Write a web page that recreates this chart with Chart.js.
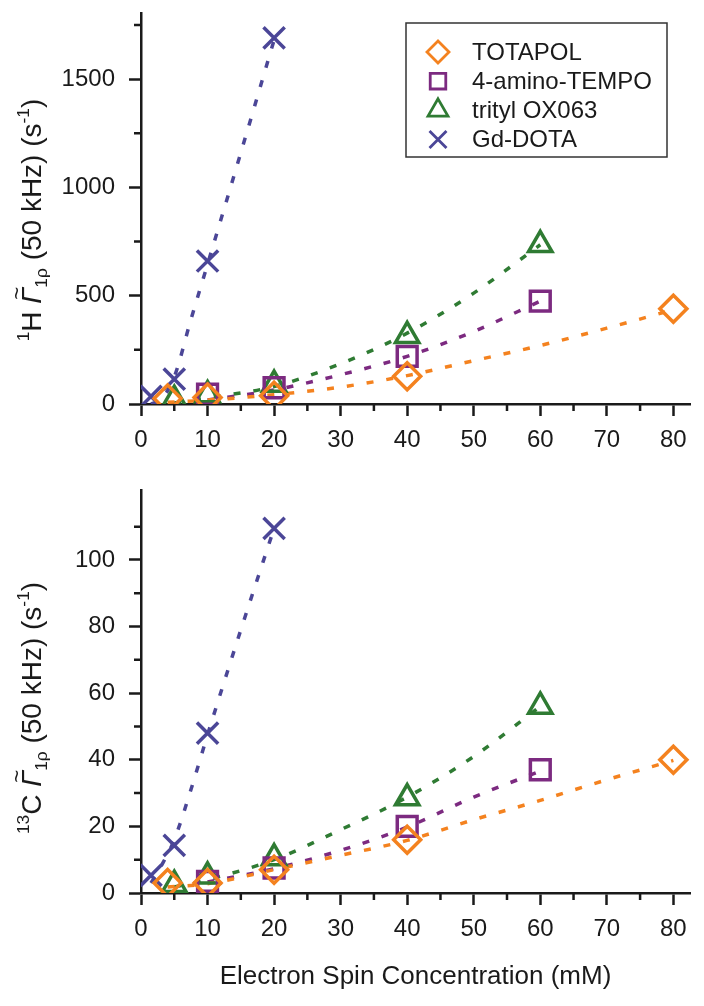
<!DOCTYPE html>
<html>
<head>
<meta charset="utf-8">
<script src="https://cdn.jsdelivr.net/npm/chart.js@4.4.1/dist/chart.umd.min.js"></script>
<style>
  html, body { margin: 0; padding: 0; background: #fff; }
  canvas { display: block; }
</style>
</head>
<body>
<canvas id="topChart" width="704" height="470"></canvas>
<canvas id="bottomChart" width="704" height="536"></canvas>
<script>
// series labels
const names = ['TOTAPOL', '4-amino-TEMPO', 'trityl OX063', 'Gd-DOTA'];

// electron spin concentration (mM) of each sample
const xTotapol = [4, 10, 20, 40, 80];
const xTempo = [10, 20, 40, 60];
const xTrityl = [5, 10, 20, 40, 60];
const xGd = [1.5, 5, 10, 20];

// 1H rates (s^-1)
const hTotapol = [25, 30, 38, 128, 440];
const hTempo = [45, 75, 220, 475];
const hTrityl = [20, 42, 90, 315, 735];
const hGd = [35, 115, 660, 1690];

// 13C rates (s^-1)
const cTotapol = [3, 3, 7, 16, 40];
const cTempo = [3.5, 7.5, 20, 37];
const cTrityl = [2.5, 5, 10.5, 28.5, 56];
const cGd = [5.3, 14.3, 48, 109.5];

// dotted fit curves
const fitXTotapol = [4, 10, 20, 30, 40, 50, 60, 70, 80];
const fitHTotapol = [8, 18, 43, 78, 131, 200, 270, 350, 435];
const fitCTotapol = [1.8, 2.8, 7, 11.3, 15.8, 22, 27.8, 34, 39.8];
const fitXTempo = [10, 20, 30, 40, 50, 60];
const fitHTempo = [18, 65, 135, 220, 335, 475];
const fitCTempo = [3.3, 7.3, 12.8, 19.8, 28.8, 36.6];
const fitXTrityl = [5, 10, 20, 30, 40, 50, 60];
const fitHTrityl = [5, 28, 81, 186, 327, 512, 735];
const fitCTrityl = [1.8, 4, 10, 19, 28.8, 41, 56];
const fitXGd = [1.5, 3, 5, 7.5, 10, 15, 20];
const fitHGd = [0, 20, 125, 390, 645, 1160, 1680];
const fitCGd = [3, 8, 16, 31, 47.5, 79, 109.5];

// axis ticks
const xTicks = [0, 5, 10, 15, 20, 25, 30, 35, 40, 45, 50, 55, 60, 65, 70, 75, 80];
const hTicks = [0, 250, 500, 750, 1000, 1250, 1500, 1750];
const cTicks = [0, 10, 20, 30, 40, 50, 60, 70, 80, 90, 100, 110];

// styles
const colors = ['#f4821f', '#7c2a80', '#2f7b33', '#4b4697'];
const markers = ['rectRot', 'rect', 'triangle', 'crossRot'];
const markerSize = [13.5, 14, 13.5, 15];
const legendSize = [11, 11, 11.5, 12];
const FONT = "'Liberation Sans', Arial, sans-serif";
const ink = '#1a1a1a';

const xs = [xTotapol, xTempo, xTrityl, xGd];
const fitXs = [fitXTotapol, fitXTempo, fitXTrityl, fitXGd];

function pts(xv, yv) {
  return xv.map((x, i) => ({ x: x, y: yv[i] }));
}

// draw the rotated y title with super/subscripts
function richTitle(parts, cx, cy, size) {
  return {
    id: 'richTitle',
    afterDraw(chart) {
      const ctx = chart.ctx;
      ctx.save();
      const items = parts.map(p => {
        const s = (p.sup || p.sub) ? size * 0.62 : size;
        const f = (p.italic ? 'italic ' : '') + s + 'px ' + FONT;
        ctx.font = f;
        return { p: p, f: f, s: s, w: ctx.measureText(p.t).width };
      });
      const total = items.reduce((a, it) => a + it.w, 0);
      ctx.translate(cx, cy);
      ctx.rotate(-Math.PI / 2);
      ctx.fillStyle = ink;
      ctx.textBaseline = 'alphabetic';
      let x = -total / 2;
      const base = size * 0.36;
      items.forEach(it => {
        ctx.font = it.f;
        let dy = 0;
        if (it.p.sup) dy = -size * 0.42;
        if (it.p.sub) dy = size * 0.22;
        ctx.fillText(it.p.t, x, base + dy);
        if (it.p.tilde) {
          ctx.font = (size * 0.8) + 'px ' + FONT;
          ctx.fillText('~', x + it.w * 0.25, base - size * 0.6);
        }
        x += it.w;
      });
      ctx.restore();
    }
  };
}

function minorTicks(yMajor) {
  return {
    id: 'minorTicks',
    afterDraw(chart) {
      const ctx = chart.ctx, a = chart.chartArea;
      const sx = chart.scales.x, sy = chart.scales.y;
      ctx.save();
      ctx.strokeStyle = ink;
      ctx.lineWidth = 2.5;
      ctx.beginPath();
      sx.ticks.forEach(t => {
        if (t.value % 10 !== 0) {
          const px = sx.getPixelForValue(t.value);
          ctx.moveTo(px, a.bottom);
          ctx.lineTo(px, a.bottom + 7);
        }
      });
      sy.ticks.forEach(t => {
        if (t.value % yMajor !== 0) {
          const py = sy.getPixelForValue(t.value);
          ctx.moveTo(a.left, py);
          ctx.lineTo(a.left - 7, py);
        }
      });
      ctx.stroke();
      ctx.restore();
    }
  };
}

const legendBox = {
  id: 'legendBox',
  afterDraw(chart) {
    const ctx = chart.ctx;
    ctx.save();
    ctx.strokeStyle = '#333';
    ctx.lineWidth = 1.5;
    ctx.strokeRect(406, 23, 261, 134);
    names.forEach((n, i) => {
      const y = 52 + i * 29.2;
      ctx.strokeStyle = colors[i];
      ctx.fillStyle = 'rgba(0,0,0,0)';
      ctx.lineWidth = 2.8;
      Chart.helpers.drawPoint(ctx, { pointStyle: markers[i], radius: legendSize[i], rotation: 0, borderWidth: 2.8 }, 438, y);
      ctx.fillStyle = ink;
      ctx.font = '24px ' + FONT;
      ctx.textBaseline = 'middle';
      ctx.fillText(n, 472, y + 1);
    });
    ctx.restore();
  }
};

function panel(id, ys, fitYs, yMax, yTicks, yMajor, title, extra) {
  const datasets = [];
  names.forEach((n, i) => {
    datasets.push({
      label: n + ' fit',
      data: pts(fitXs[i], fitYs[i]),
      showLine: true,
      pointRadius: 0,
      borderColor: colors[i],
      borderWidth: 3.5,
      borderDash: [7, 13],
      cubicInterpolationMode: 'monotone',
      order: 2
    });
  });
  names.forEach((n, i) => {
    datasets.push({
      label: n,
      data: pts(xs[i], ys[i]),
      showLine: false,
      pointStyle: markers[i],
      pointRadius: markerSize[i],
      pointBorderWidth: 3.5,
      pointBorderColor: colors[i],
      pointBackgroundColor: 'rgba(0,0,0,0)',
      order: 1
    });
  });

  const tickFont = { family: FONT, size: 24 };
  return new Chart(document.getElementById(id), {
    type: 'scatter',
    data: { datasets: datasets },
    options: {
      responsive: false,
      animation: false,
      devicePixelRatio: 1,
      layout: { autoPadding: false, padding: { top: extra.top, right: 14, left: 0, bottom: 0 } },
      plugins: { legend: { display: false }, tooltip: { enabled: false } },
      scales: {
        x: {
          type: 'linear',
          min: 0,
          max: 82.5,
          afterBuildTicks: s => { s.ticks = xTicks.map(v => ({ value: v })); },
          afterFit: s => { s.height = extra.xHeight; s.paddingLeft = 0; s.paddingRight = 0; },
          ticks: {
            autoSkip: false,
            maxRotation: 0,
            padding: 10,
            color: ink,
            font: tickFont,
            callback: v => (v % 10 === 0 ? String(v) : '')
          },
          grid: {
            drawOnChartArea: false,
            tickLength: 12,
            tickWidth: 2.5,
            tickColor: c => (c.tick && c.tick.value % 10 === 0 ? ink : 'rgba(0,0,0,0)')
          },
          border: { color: ink, width: 2.5 },
          title: {
            display: extra.xTitle,
            text: 'Electron Spin Concentration (mM)',
            color: ink,
            font: { family: FONT, size: 26 },
            padding: { top: 4, bottom: 14 }
          }
        },
        y: {
          type: 'linear',
          min: 0,
          max: yMax,
          afterBuildTicks: s => { s.ticks = yTicks.map(v => ({ value: v })); },
          afterFit: s => { s.width = 141; s.paddingTop = 0; s.paddingBottom = 0; },
          ticks: {
            autoSkip: false,
            padding: 14,
            color: ink,
            font: tickFont,
            callback: v => (v % yMajor === 0 ? String(v) : '')
          },
          grid: {
            drawOnChartArea: false,
            tickLength: 12,
            tickWidth: 2.5,
            tickColor: c => (c.tick && c.tick.value % yMajor === 0 ? ink : 'rgba(0,0,0,0)')
          },
          border: { color: ink, width: 2.5 }
        }
      }
    },
    plugins: [minorTicks(yMajor), richTitle(title, 31, extra.titleY, 28)].concat(extra.legend ? [legendBox] : [])
  });
}

panel('topChart', [hTotapol, hTempo, hTrityl, hGd], [fitHTotapol, fitHTempo, fitHTrityl, fitHGd],
  1805, hTicks, 500,
  [{ t: '1', sup: true }, { t: 'H ' }, { t: 'Γ', italic: true, tilde: true }, { t: '1ρ', sub: true },
   { t: ' (50 kHz) (s' }, { t: '-1', sup: true }, { t: ')' }],
  { top: 13, xHeight: 66, xTitle: false, titleY: 220, legend: true });

panel('bottomChart', [cTotapol, cTempo, cTrityl, cGd], [fitCTotapol, fitCTempo, fitCTrityl, fitCGd],
  121, cTicks, 20,
  [{ t: '13', sup: true }, { t: 'C ' }, { t: 'Γ', italic: true, tilde: true }, { t: '1ρ', sub: true },
   { t: ' (50 kHz) (s' }, { t: '-1', sup: true }, { t: ')' }],
  { top: 20, xHeight: 113, xTitle: true, titleY: 238, legend: false });
</script>
</body>
</html>
